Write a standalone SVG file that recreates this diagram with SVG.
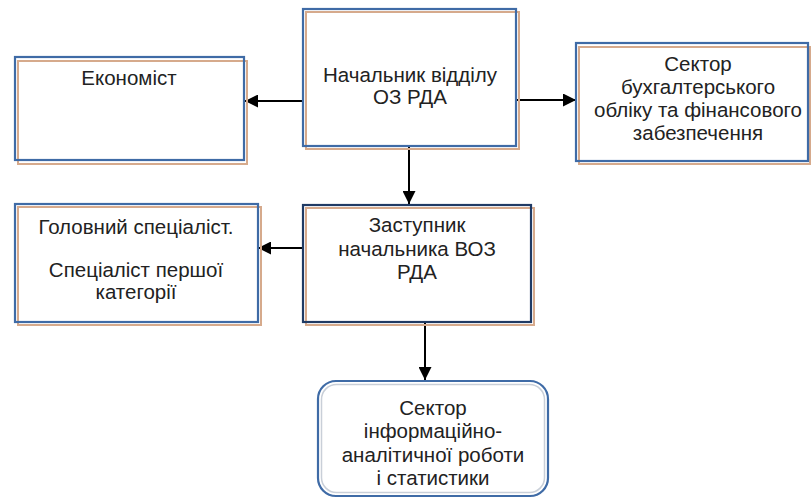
<svg xmlns="http://www.w3.org/2000/svg" width="812" height="499" viewBox="0 0 812 499">
<defs>
<style>
.bg{fill:#ffffff;stroke:none}
.sh{fill:none;stroke:#D6AA8C;stroke-width:2}
.bx{fill:none;stroke:#3F6BA6;stroke-width:2.2}
.nv{fill:none;stroke:#1F3A64;stroke-width:2.2}
.in{fill:none;stroke:#C9CFD8;stroke-width:1.5}
.t{font-family:"Liberation Sans",Arial,sans-serif;font-size:20.5px;fill:#222222;text-anchor:middle}
.c{stroke:#000000;stroke-width:2;fill:none;marker-end:url(#ah)}
</style>
<marker id="ah" viewBox="0 0 12 12" refX="12" refY="6" markerWidth="13" markerHeight="13" markerUnits="userSpaceOnUse" orient="auto">
<path d="M0,0 L12,6 L0,12 Z" fill="#000000"/>
</marker>
</defs>
<rect width="812" height="499" fill="#ffffff"/>
<g id="connectors">
<line class="c" x1="303" y1="101" x2="245" y2="101"/>
<line class="c" x1="517" y1="100" x2="576" y2="100"/>
<line class="c" x1="409" y1="146" x2="409" y2="204"/>
<line class="c" x1="304" y1="248" x2="258" y2="248"/>
<line class="c" x1="425" y1="322" x2="425" y2="380"/>
</g>
<g id="ekonomist">
<rect class="bg" x="15" y="57" width="229" height="103"/>
<rect class="sh" x="18" y="61" width="229" height="103"/>
<rect class="bx" x="15" y="57" width="229" height="103"/>
<text class="t" x="129" y="85">Економіст</text>
</g>
<g id="nachalnyk">
<rect class="bg" x="303" y="9" width="213" height="137"/>
<rect class="sh" x="306" y="12" width="213" height="137"/>
<rect class="bx" x="303" y="9" width="213" height="137"/>
<text class="t" x="410" y="82">Начальник відділу</text>
<text class="t" x="410" y="104">ОЗ РДА</text>
</g>
<g id="sektor-bukh">
<rect class="bg" x="576" y="43" width="232" height="118"/>
<rect class="sh" x="579" y="47" width="231" height="117"/>
<rect class="bx" x="576" y="43" width="232" height="118"/>
<text class="t" x="698" y="71">Сектор</text>
<text class="t" x="698" y="94">бухгалтерського</text>
<text class="t" x="698" y="117">обліку та фінансового</text>
<text class="t" x="698" y="140">забезпечення</text>
</g>
<g id="holovnyi">
<rect class="bg" x="15" y="204" width="243" height="118"/>
<rect class="sh" x="18" y="207" width="243" height="118"/>
<rect class="bx" x="15" y="204" width="243" height="118"/>
<text class="t" x="136" y="234">Головний спеціаліст.</text>
<text class="t" x="136" y="277">Спеціаліст першої</text>
<text class="t" x="136" y="299">категорії</text>
</g>
<g id="zastupnyk">
<rect class="bg" x="303" y="205" width="228" height="117"/>
<rect class="sh" x="306" y="208" width="228" height="117"/>
<rect class="nv" x="303" y="205" width="228" height="117"/>
<text class="t" x="417" y="232">Заступник</text>
<text class="t" x="417" y="256">начальника ВОЗ</text>
<text class="t" x="417" y="279">РДА</text>
</g>
<g id="sektor-info">
<rect class="bg" x="318" y="381" width="230" height="115" rx="18"/>
<rect class="in" x="321.5" y="384.5" width="223" height="108" rx="15"/>
<rect class="bx" x="318" y="381" width="230" height="115" rx="18"/>
<text class="t" x="433" y="415">Сектор</text>
<text class="t" x="433" y="438">інформаційно-</text>
<text class="t" x="433" y="462">аналітичної роботи</text>
<text class="t" x="433" y="485">і статистики</text>
</g>
</svg>
